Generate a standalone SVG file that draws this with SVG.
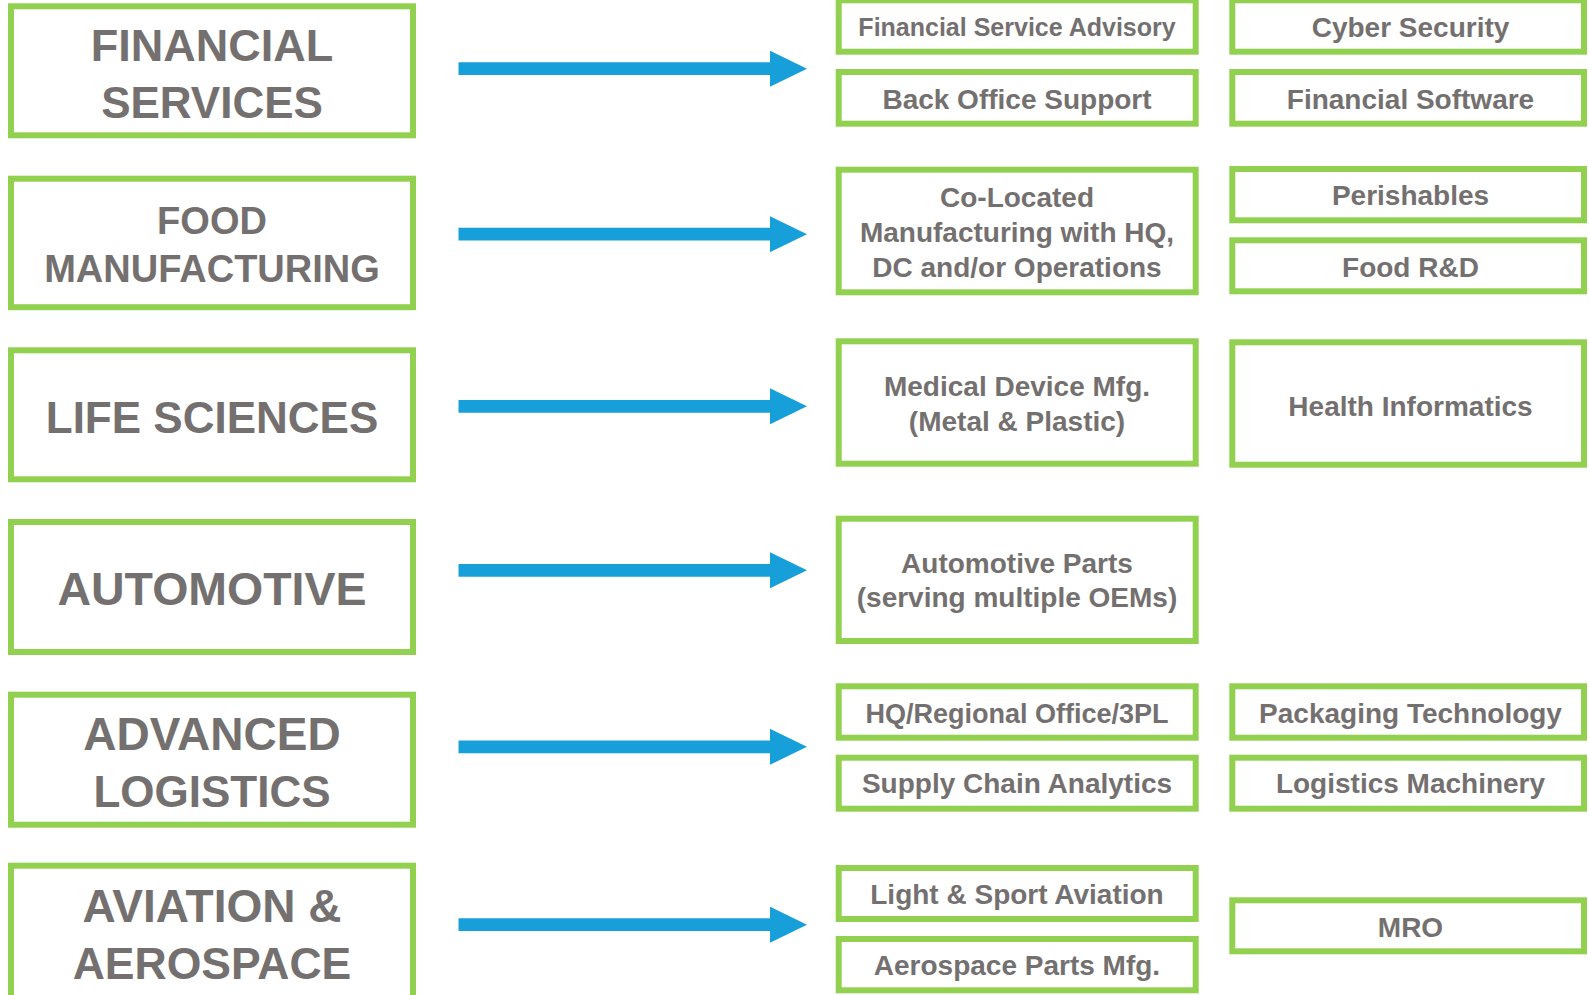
<svg xmlns="http://www.w3.org/2000/svg" width="1589" height="995" viewBox="0 0 1589 995">
<style>
.box{fill:#fff;stroke:#92D050;stroke-width:6}
.t{font-family:"Liberation Sans",Arial,sans-serif;font-weight:bold;fill:#747070;text-anchor:middle}
.big{font-size:46px}
.mid{font-size:28px}
.arr{stroke:#179FDA;stroke-width:12.7;fill:none}
</style>
<defs>
<marker id="head" markerUnits="userSpaceOnUse" markerWidth="37" markerHeight="36" refX="1" refY="18" orient="auto" viewBox="0 0 37 36">
<path d="M0,0 L37,18 L0,36 Z" fill="#179FDA"/>
</marker>
</defs>
<rect width="1589" height="995" fill="#fff"/>

<g id="connectors">
<line class="arr" x1="458.5" y1="68.7" x2="771" y2="68.7" marker-end="url(#head)"/>
<line class="arr" x1="458.5" y1="234.2" x2="771" y2="234.2" marker-end="url(#head)"/>
<line class="arr" x1="458.5" y1="406.3" x2="771" y2="406.3" marker-end="url(#head)"/>
<line class="arr" x1="458.5" y1="570.3" x2="771" y2="570.3" marker-end="url(#head)"/>
<line class="arr" x1="458.5" y1="746.8" x2="771" y2="746.8" marker-end="url(#head)"/>
<line class="arr" x1="458.5" y1="924.7" x2="771" y2="924.7" marker-end="url(#head)"/>
</g>

<g id="financial-services">
<rect class="box" x="11" y="6.3" width="402" height="129"/>
<text class="t" x="212" y="61" font-size="45">FINANCIAL</text>
<text class="t" x="212" y="118" font-size="44">SERVICES</text>
</g>
<g id="food-manufacturing">
<rect class="box" x="11" y="178.7" width="402" height="128.5"/>
<text class="t" x="212" y="234.3" font-size="38">FOOD</text>
<text class="t" x="212" y="282.3" font-size="38">MANUFACTURING</text>
</g>
<g id="life-sciences">
<rect class="box" x="11" y="350.3" width="402" height="129"/>
<text class="t" x="212" y="433.3" font-size="44">LIFE SCIENCES</text>
</g>
<g id="automotive">
<rect class="box" x="11" y="522" width="402" height="130"/>
<text class="t" x="212" y="605" font-size="46.5">AUTOMOTIVE</text>
</g>
<g id="advanced-logistics">
<rect class="box" x="11" y="694.7" width="402" height="130"/>
<text class="t" x="212" y="750" font-size="46">ADVANCED</text>
<text class="t" x="212" y="806.7" font-size="44">LOGISTICS</text>
</g>
<g id="aviation-aerospace">
<rect class="box" x="11" y="865.7" width="402" height="135"/>
<text class="t" x="212" y="922.3" font-size="46">AVIATION &amp;</text>
<text class="t" x="212" y="979" font-size="44.5">AEROSPACE</text>
</g>

<g id="financial-service-advisory">
<rect class="box" x="838.7" y="0.3" width="357" height="51.4"/>
<text class="t" x="1017" y="36" font-size="25">Financial Service Advisory</text>
</g>
<g id="cyber-security">
<rect class="box" x="1232.3" y="0.3" width="351.7" height="51.4"/>
<text class="t mid" x="1410.5" y="36.5">Cyber Security</text>
</g>
<g id="back-office-support">
<rect class="box" x="838.7" y="72" width="357" height="51.7"/>
<text class="t mid" x="1017" y="109.3">Back Office Support</text>
</g>
<g id="financial-software">
<rect class="box" x="1232.3" y="72" width="351.7" height="51.7"/>
<text class="t mid" x="1410.5" y="109.3">Financial Software</text>
</g>

<g id="co-located">
<rect class="box" x="838.7" y="169.7" width="357" height="122.6"/>
<text class="t mid" x="1017" y="206.7">Co-Located</text>
<text class="t mid" x="1017" y="241.7">Manufacturing with HQ,</text>
<text class="t mid" x="1017" y="276.7">DC and/or Operations</text>
</g>
<g id="perishables">
<rect class="box" x="1232.3" y="169" width="351.7" height="51.3"/>
<text class="t mid" x="1410.5" y="205">Perishables</text>
</g>
<g id="food-rd">
<rect class="box" x="1232.3" y="240.3" width="351.7" height="51"/>
<text class="t mid" x="1410.5" y="276.7">Food R&amp;D</text>
</g>

<g id="medical-device">
<rect class="box" x="838.7" y="341.3" width="357" height="122.4"/>
<text class="t mid" x="1017" y="396">Medical Device Mfg.</text>
<text class="t mid" x="1017" y="431">(Metal &amp; Plastic)</text>
</g>
<g id="health-informatics">
<rect class="box" x="1232.3" y="342.3" width="351.7" height="122.4"/>
<text class="t mid" x="1410.5" y="415.7">Health Informatics</text>
</g>

<g id="automotive-parts">
<rect class="box" x="838.7" y="518.7" width="357" height="122.3"/>
<text class="t mid" x="1017" y="573.3">Automotive Parts</text>
<text class="t mid" x="1017" y="607.3">(serving multiple OEMs)</text>
</g>

<g id="hq-regional">
<rect class="box" x="838.7" y="686.3" width="357" height="51.4"/>
<text class="t" x="1017" y="722.7" font-size="27">HQ/Regional Office/3PL</text>
</g>
<g id="packaging-technology">
<rect class="box" x="1232.3" y="686.3" width="351.7" height="51.4"/>
<text class="t mid" x="1410.5" y="723">Packaging Technology</text>
</g>
<g id="supply-chain-analytics">
<rect class="box" x="838.7" y="757.7" width="357" height="51"/>
<text class="t mid" x="1017" y="793.3">Supply Chain Analytics</text>
</g>
<g id="logistics-machinery">
<rect class="box" x="1232.3" y="757.7" width="351.7" height="51"/>
<text class="t mid" x="1410.5" y="793.3">Logistics Machinery</text>
</g>

<g id="light-sport-aviation">
<rect class="box" x="838.7" y="868" width="357" height="51"/>
<text class="t mid" x="1017" y="904.3">Light &amp; Sport Aviation</text>
</g>
<g id="aerospace-parts">
<rect class="box" x="838.7" y="939" width="357" height="51.3"/>
<text class="t mid" x="1017" y="975">Aerospace Parts Mfg.</text>
</g>
<g id="mro">
<rect class="box" x="1232.3" y="900.3" width="351.7" height="51"/>
<text class="t mid" x="1410.5" y="937.3">MRO</text>
</g>
</svg>
